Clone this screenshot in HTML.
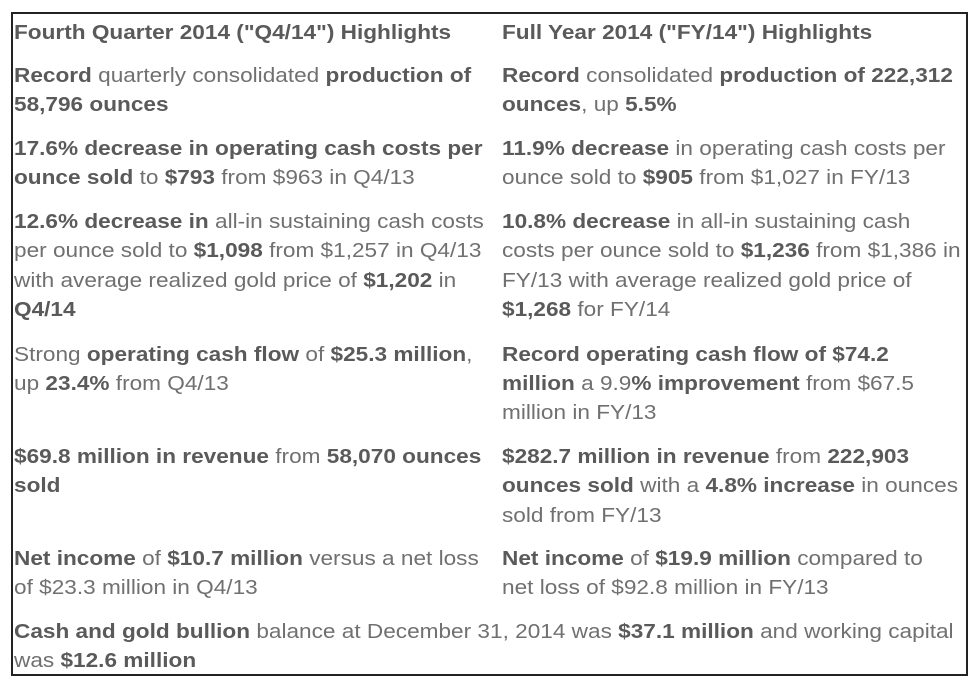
<!DOCTYPE html>
<html><head><meta charset="utf-8"><style>
body{margin:0;background:#fff;width:980px;height:687px;position:relative;overflow:hidden;font-family:"Liberation Sans",Arial,sans-serif;font-size:20px;color:#707070}
.box{position:absolute;left:11px;top:12px;width:957px;height:664px;border:2px solid #222;box-sizing:border-box}
.l{position:absolute;white-space:nowrap;line-height:30px;height:30px;transform:scaleX(1.13);transform-origin:0 0;margin-top:2px}
b{color:#5a5a5a}
.a{left:14px}.c{left:502px}
</style></head><body>
<div class="box"></div>
<div class="l a" style="top:16px"><b>Fourth Quarter 2014 ("Q4/14") Highlights</b></div>
<div class="l c" style="top:16px"><b>Full Year 2014 ("FY/14") Highlights</b></div>

<div class="l a" style="top:59px"><b>Record</b> quarterly consolidated <b>production of</b></div>
<div class="l a" style="top:88px"><b>58,796 ounces</b></div>
<div class="l c" style="top:59px"><b>Record</b> consolidated <b>production of 222,312</b></div>
<div class="l c" style="top:88px"><b>ounces</b>, up <b>5.5%</b></div>

<div class="l a" style="top:132px"><b>17.6% decrease in operating cash costs per</b></div>
<div class="l a" style="top:161px"><b>ounce sold</b> to <b>$793</b> from $963 in Q4/13</div>
<div class="l c" style="top:132px"><b>11.9% decrease</b> in operating cash costs per</div>
<div class="l c" style="top:161px">ounce sold to <b>$905</b> from $1,027 in FY/13</div>

<div class="l a" style="top:205px"><b>12.6% decrease in</b> all-in sustaining cash costs</div>
<div class="l a" style="top:234px">per ounce sold to <b>$1,098</b> from $1,257 in Q4/13</div>
<div class="l a" style="top:264px">with average realized gold price of <b>$1,202</b> in</div>
<div class="l a" style="top:293px"><b>Q4/14</b></div>
<div class="l c" style="top:205px"><b>10.8% decrease</b> in all-in sustaining cash</div>
<div class="l c" style="top:234px">costs per ounce sold to <b>$1,236</b> from $1,386 in</div>
<div class="l c" style="top:264px">FY/13 with average realized gold price of</div>
<div class="l c" style="top:293px"><b>$1,268</b> for FY/14</div>

<div class="l a" style="top:338px">Strong <b>operating cash flow</b> of <b>$25.3 million</b>,</div>
<div class="l a" style="top:367px">up <b>23.4%</b> from Q4/13</div>
<div class="l c" style="top:338px"><b>Record operating cash flow of $74.2</b></div>
<div class="l c" style="top:367px"><b>million</b> a 9.9<b>% improvement</b> from $67.5</div>
<div class="l c" style="top:396px">million in FY/13</div>

<div class="l a" style="top:440px"><b>$69.8 million in revenue</b> from <b>58,070 ounces</b></div>
<div class="l a" style="top:469px"><b>sold</b></div>
<div class="l c" style="top:440px"><b>$282.7 million in revenue</b> from <b>222,903</b></div>
<div class="l c" style="top:469px"><b>ounces sold</b> with a <b>4.8% increase</b> in ounces</div>
<div class="l c" style="top:499px">sold from FY/13</div>

<div class="l a" style="top:542px"><b>Net income</b> of <b>$10.7 million</b> versus a net loss</div>
<div class="l a" style="top:571px">of $23.3 million in Q4/13</div>
<div class="l c" style="top:542px"><b>Net income</b> of <b>$19.9 million</b> compared to</div>
<div class="l c" style="top:571px">net loss of $92.8 million in FY/13</div>

<div class="l a" style="top:615px"><b>Cash and gold bullion</b> balance at December 31, 2014 was <b>$37.1 million</b> and working capital</div>
<div class="l a" style="top:644px">was <b>$12.6 million</b></div>
</body></html>
